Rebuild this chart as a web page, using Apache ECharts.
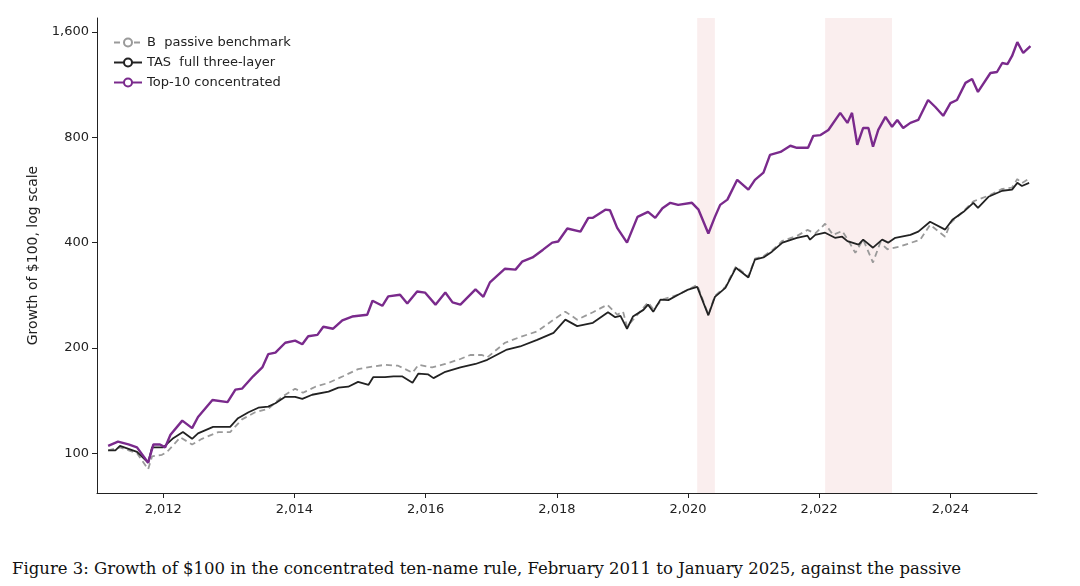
<!DOCTYPE html>
<html><head><meta charset="utf-8">
<script src="https://cdn.jsdelivr.net/npm/echarts@6/dist/echarts.min.js"></script>
<style>html,body{margin:0;padding:0;background:#fff}#c{width:1080px;height:545px}
#cap{position:absolute;left:12px;top:559px;font-family:"DejaVu Serif","Liberation Serif",serif;font-size:16.5px;color:#111;white-space:nowrap}</style>
</head><body><div id="c"></div><div id="cap">Figure 3: Growth of $100 in the concentrated ten-name rule, February 2011 to January 2025, against the passive</div>
<script>
const topYears=[2011.16,2011.31,2011.47,2011.60,2011.77,2011.85,2011.95,2012.03,2012.11,2012.29,2012.44,2012.53,2012.75,2012.98,2013.10,2013.20,2013.37,2013.51,2013.60,2013.71,2013.86,2014.01,2014.12,2014.21,2014.35,2014.44,2014.59,2014.73,2014.88,2015.11,2015.19,2015.34,2015.43,2015.61,2015.72,2015.87,2015.99,2016.15,2016.30,2016.41,2016.53,2016.76,2016.88,2016.98,2017.21,2017.37,2017.47,2017.63,2017.79,2017.93,2018.02,2018.16,2018.36,2018.48,2018.55,2018.74,2018.81,2018.92,2019.07,2019.23,2019.39,2019.50,2019.61,2019.73,2019.85,2020.06,2020.16,2020.31,2020.41,2020.49,2020.60,2020.75,2020.92,2021.02,2021.15,2021.25,2021.41,2021.56,2021.66,2021.83,2021.91,2022.02,2022.14,2022.32,2022.43,2022.50,2022.58,2022.67,2022.75,2022.82,2022.90,2023.01,2023.11,2023.19,2023.28,2023.39,2023.51,2023.66,2023.77,2023.89,2024.00,2024.10,2024.23,2024.33,2024.42,2024.61,2024.71,2024.79,2024.87,2024.94,2025.02,2025.11,2025.22];
const topValues=[105,108,106,104,94,106,106,104,113,124,118,127,142,140,152,153,166,176,192,194,207,210,205,216,218,230,227,240,246,249,273,264,281,284,268,290,288,266,288,270,266,294,280,308,337,335,353,363,382,400,403,439,430,471,471,497,495,441,400,474,490,471,502,520,513,520,497,425,474,513,531,605,567,605,634,713,727,757,747,747,808,812,840,940,880,940,762,851,851,752,840,915,858,897,851,880,897,1023,977,922,1002,1023,1145,1175,1079,1222,1230,1305,1296,1367,1498,1394,1459];
const tasYears=[2011.16,2011.27,2011.34,2011.60,2011.77,2011.83,2012.00,2012.14,2012.30,2012.44,2012.53,2012.76,2013.02,2013.14,2013.30,2013.45,2013.60,2013.71,2013.86,2014.01,2014.12,2014.27,2014.52,2014.67,2014.82,2014.97,2015.13,2015.20,2015.38,2015.51,2015.64,2015.80,2015.89,2016.04,2016.12,2016.30,2016.53,2016.76,2016.94,2017.24,2017.44,2017.70,2017.95,2018.13,2018.31,2018.55,2018.78,2018.89,2018.97,2019.07,2019.16,2019.32,2019.39,2019.47,2019.58,2019.70,2019.85,2019.99,2020.14,2020.31,2020.41,2020.57,2020.73,2020.92,2021.02,2021.15,2021.28,2021.44,2021.66,2021.82,2021.86,2021.94,2022.09,2022.24,2022.35,2022.43,2022.60,2022.67,2022.82,2022.96,2023.05,2023.16,2023.39,2023.51,2023.69,2023.92,2024.03,2024.20,2024.35,2024.42,2024.58,2024.79,2024.94,2025.02,2025.09,2025.20];
const tasValues=[102,102,105,101,94,104,104,110,115,110,114,119,119,126,131,135,136,139,145,145,143,147,150,154,155,160,157,165,165,166,166,159,169,168,164,171,176,180,185,198,202,211,221,241,231,236,253,245,247,227,246,257,266,254,275,274,284,293,299,248,280,297,339,318,358,363,377,400,413,419,408,421,427,413,416,404,395,408,387,408,400,413,421,430,459,436,465,490,520,503,541,563,567,593,581,593];
const bYears=[2011.16,2011.34,2011.60,2011.77,2011.83,2011.98,2012.06,2012.26,2012.44,2012.59,2012.84,2013.02,2013.20,2013.40,2013.60,2013.81,2014.01,2014.13,2014.32,2014.52,2014.74,2014.97,2015.19,2015.38,2015.58,2015.80,2015.89,2016.10,2016.30,2016.53,2016.68,2016.86,2016.94,2017.21,2017.44,2017.70,2017.95,2018.13,2018.31,2018.55,2018.77,2018.92,2019.01,2019.07,2019.27,2019.39,2019.47,2019.61,2019.85,2020.14,2020.31,2020.41,2020.57,2020.73,2020.92,2021.02,2021.15,2021.28,2021.44,2021.66,2021.82,2021.94,2022.09,2022.21,2022.35,2022.43,2022.55,2022.67,2022.82,2022.93,2023.04,2023.23,2023.54,2023.69,2023.92,2024.00,2024.20,2024.35,2024.58,2024.79,2024.94,2025.02,2025.09,2025.19];
const bValues=[102,104,100,90,98,99,101,111,106,110,115,115,125,131,134,145,153,149,155,159,166,174,177,179,178,170,179,176,180,186,191,191,188,207,215,223,241,254,241,253,266,249,254,230,254,270,258,275,284,303,249,282,299,342,320,360,366,380,405,418,435,425,453,421,432,410,374,408,351,400,383,390,408,450,416,455,492,525,545,570,575,608,592,608];
const yTicks=[100,200,400,800,1600];
const xTicks=[2012,2014,2016,2018,2020,2022,2024];
const shaded=[[2020.14,2020.41],[2022.09,2023.11]];
const zip=(a,b)=>a.map((v,i)=>[v,b[i]]);
const chart=echarts.init(document.getElementById('c'));
const font='"DejaVu Sans",sans-serif';
chart.setOption({
 animation:false,
 grid:{left:97,right:43,top:18,bottom:52},
 legend:{orient:'vertical',left:108,top:31,itemGap:7,itemWidth:28,itemHeight:10,
   textStyle:{fontFamily:font,fontSize:13,color:'#222'},
   data:['B  passive benchmark','TAS  full three-layer','Top-10 concentrated']},
 xAxis:{type:'value',min:2010.99,max:2025.32,
   axisLine:{lineStyle:{color:'#222'}},splitLine:{show:false},
   axisTick:{customValues:xTicks,length:5,lineStyle:{color:'#222'}},
   axisLabel:{customValues:xTicks,fontFamily:font,fontSize:13,color:'#222',margin:10}},
 yAxis:{type:'log',logBase:2,min:77,max:1755,
   name:'Growth of $100, log scale',nameLocation:'middle',nameGap:57,nameRotate:90,
   nameTextStyle:{fontFamily:font,fontSize:14,color:'#222'},
   axisLine:{show:true,lineStyle:{color:'#222'}},splitLine:{show:false},
   axisTick:{customValues:yTicks,length:5,lineStyle:{color:'#222'}},
   axisLabel:{customValues:yTicks,fontFamily:font,fontSize:13,color:'#222',margin:8}},
 series:[
  {name:'B  passive benchmark',type:'line',data:zip(bYears,bValues),showSymbol:false,
   lineStyle:{color:'#9a9a9a',width:1.8,type:[6,4]},itemStyle:{color:'#9a9a9a'},z:2,
   markArea:{silent:true,itemStyle:{color:'rgba(232,170,170,0.2)'},
     data:shaded.map(s=>[{xAxis:s[0]},{xAxis:s[1]}])}},
  {name:'TAS  full three-layer',type:'line',data:zip(tasYears,tasValues),showSymbol:false,
   lineStyle:{color:'#222',width:1.8},itemStyle:{color:'#222'},z:3},
  {name:'Top-10 concentrated',type:'line',data:zip(topYears,topValues),showSymbol:false,
   lineStyle:{color:'#7a2a8c',width:2.4},itemStyle:{color:'#7a2a8c'},z:4}
 ]
});
</script></body></html>
